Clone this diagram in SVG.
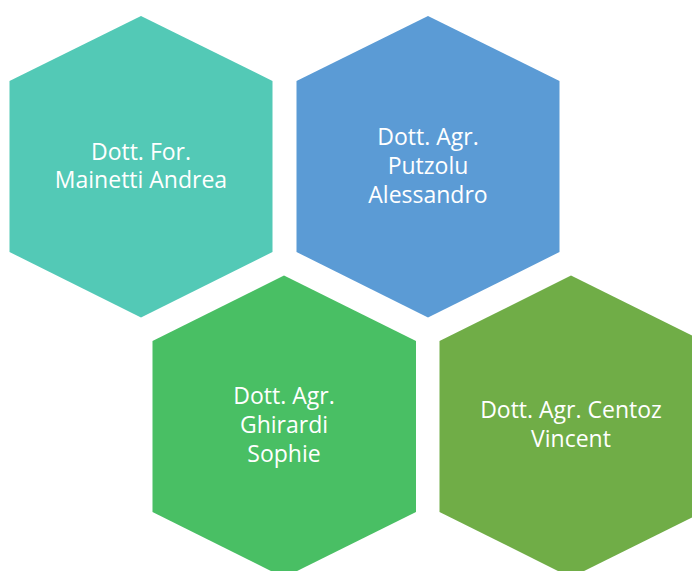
<svg xmlns="http://www.w3.org/2000/svg" width="692" height="571" viewBox="0 0 692 571">
<style>
.lbl{font-family:"Open Sans","Liberation Sans",sans-serif;font-size:23px;fill:#ffffff;text-anchor:middle}
</style>
<rect width="692" height="571" fill="#ffffff"/>
<g id="node-mainetti">
<polygon points="141,16 272.5,81 272.5,252 141,317.5 9.5,252 9.5,81" fill="#53C9B6"/>
<text class="lbl" x="141" y="160">Dott. For.</text>
<text class="lbl" x="141" y="188">Mainetti Andrea</text>
</g>
<g id="node-putzolu">
<polygon points="428,16 559.5,81 559.5,252 428,317.5 296.5,252 296.5,81" fill="#5B9BD5"/>
<text class="lbl" x="428" y="145">Dott. Agr.</text>
<text class="lbl" x="428" y="174">Putzolu</text>
<text class="lbl" x="428" y="203">Alessandro</text>
</g>
<g id="node-ghirardi">
<polygon points="284,275.5 416,341 416,512 284,577.5 152.5,512 152.5,341" fill="#49BF64"/>
<text class="lbl" x="284" y="404">Dott. Agr.</text>
<text class="lbl" x="284" y="433">Ghirardi</text>
<text class="lbl" x="284" y="462">Sophie</text>
</g>
<g id="node-centoz">
<polygon points="571,275.5 703,341 703,512 571,577.5 439.5,512 439.5,341" fill="#70AD47"/>
<text class="lbl" x="571" y="418">Dott. Agr. Centoz</text>
<text class="lbl" x="571" y="447">Vincent</text>
</g>
<g id="connectors"></g>
</svg>
